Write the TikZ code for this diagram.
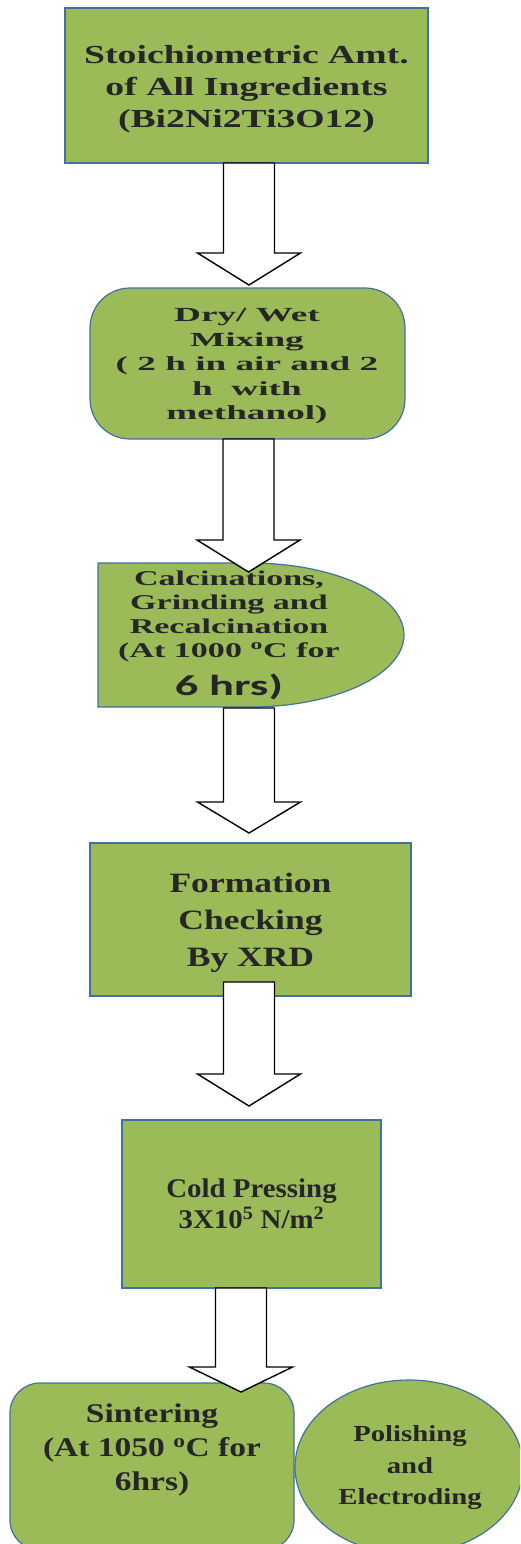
\documentclass[tikz,border=0pt]{standalone}
\usepackage{fontspec}
\usepackage{graphicx}
\setmainfont{Liberation Serif}
\newfontfamily\calib{Carlito}
\usetikzlibrary{shapes.geometric}
\definecolor{boxgreen}{HTML}{9BBB59}
\definecolor{boxline}{HTML}{41719C}
\definecolor{txtcol}{HTML}{262626}
\tikzset{
  box/.style={draw=boxline, fill=boxgreen, line width=1.2pt, inner sep=0pt},
  lbl/.style={text=txtcol, inner sep=0pt},
  blockarrow/.style={draw=black, fill=white, line width=1.4pt, line join=miter},
}
\newcommand\stext[4]{\scalebox{#1}[1]{\fontsize{#2}{#3}\selectfont\bfseries\begin{tabular}{@{}c@{}}#4\end{tabular}}}
% x center, y top, y neck, y tip
\newcommand\blockarr[4]{\draw[blockarrow] ({#1-25.5},#2) -- ({#1+25.5},#2) -- ({#1+25.5},#3) -- ({#1+51.5},#3) -- (#1,#4) -- ({#1-51.5},#3) -- ({#1-25.5},#3) -- cycle;}
\begin{document}
\begin{tikzpicture}[x=1pt,y=-1pt]
\useasboundingbox (0,0) rectangle (520,1544);
\clip (0,0) rectangle (520,1544);
% box 1
\node[box, rectangle, minimum width=363pt, minimum height=155pt] (b1) at (246.5,85.5) {};
\node[lbl] (t1) at (246.5,89.5) {\stext{1.45}{26}{32}{Stoichiometric Amt.\\of All Ingredients\\(Bi2Ni2Ti3O12)}};
% box 2
\node[box, rectangle, rounded corners=40pt, minimum width=315pt, minimum height=151pt] (b2) at (247.5,363.5) {};
\node[lbl] (t2) at (247,366) {\stext{1.86}{20}{24.5}{Dry/ Wet\\Mixing\\(\ 2 h in air and 2\\h\ \ with\\methanol)}};
% box 3 (delay shape)
\draw[box] (98,563) -- (250,563) arc[start angle=90, end angle=-90, x radius=154pt, y radius=72pt] -- (98,707) -- cycle;
\node[lbl] (t3) at (229,635.5) {\stext{1.62}{21}{24}{Calcinations,\\Grinding and\\Recalcination\\(At 1000 \textsuperscript{o}C for\\[9pt]\scalebox{0.99}[1]{\calib\fontsize{29}{29}\selectfont\bfseries 6 hrs)}}};
% box 4
\node[box, rectangle, minimum width=321pt, minimum height=153pt] (b4) at (250.5,919.5) {};
\node[lbl] (t4) at (250.5,922.5) {\stext{1.27}{28}{37}{Formation\\Checking\\By XRD}};
% box 5
\node[box, rectangle, minimum width=259pt, minimum height=168pt] (b5) at (251.5,1204) {};
\node[lbl] (t5) at (251.5,1207) {\stext{1.07}{27}{30}{Cold Pressing\\3X10\textsuperscript{5} N/m\textsuperscript{2}}};
% box 6
\node[box, rectangle, rounded corners=30pt, minimum width=284pt, minimum height=167pt] (b6) at (152,1466.5) {};
\node[lbl] (t6) at (152,1450) {\stext{1.24}{27}{34}{Sintering\\(At 1050 \textsuperscript{o}C for\\6hrs)}};
% ellipse
\node[box, ellipse, minimum width=228pt, minimum height=174pt] (e7) at (409,1467) {};
\node[lbl] (t7) at (410,1467) {\stext{1.25}{23}{31.5}{Polishing\\and\\Electroding}};
% block arrows
\blockarr{249}{163}{253}{285}
\blockarr{248.5}{439}{540}{572}
\blockarr{249}{708}{802}{833}
\blockarr{249}{982}{1074}{1106}
\blockarr{241}{1288}{1367}{1392}
\end{tikzpicture}
\end{document}
